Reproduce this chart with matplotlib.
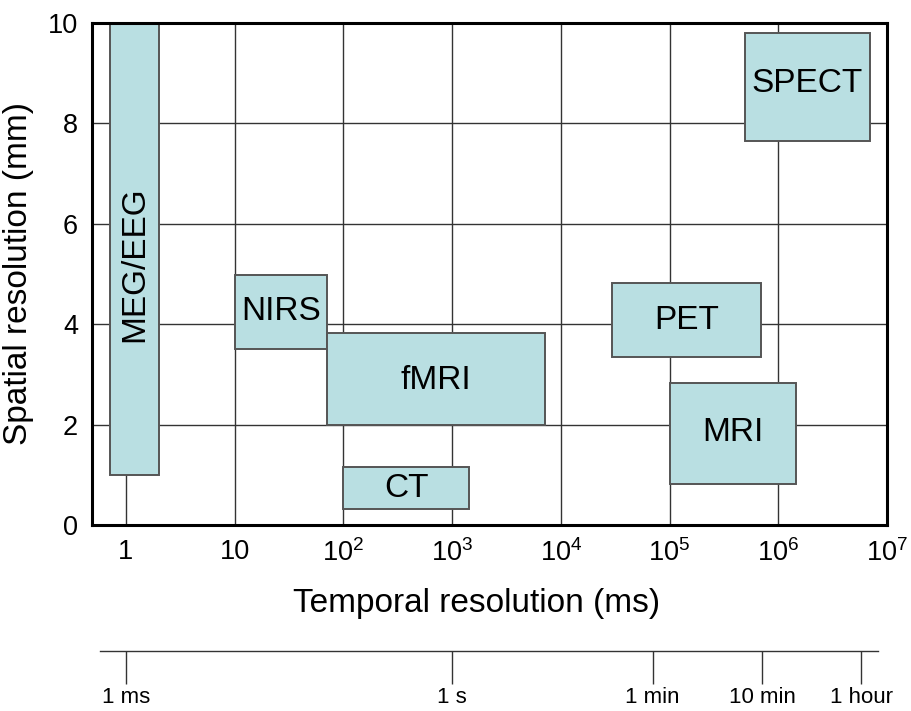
import numpy as np
import matplotlib.pyplot as plt
from matplotlib.patches import Rectangle

plt.rcParams['font.family'] = ['Liberation Sans', 'DejaVu Sans']
plt.rcParams['mathtext.fontset'] = 'custom'
plt.rcParams['mathtext.rm'] = 'Liberation Sans'
plt.rcParams['mathtext.it'] = 'Liberation Sans:italic'

# imaging methods: temporal range (ms) and spatial range (mm)
methods = ['MEG/EEG', 'NIRS', 'fMRI', 'CT', 'PET', 'MRI', 'SPECT']
t_lo = [0.71, 10, 70, 100, 2.93e4, 1e5, 4.9e5]
t_hi = [2.0, 70, 7.1e3, 1.42e3, 7.0e5, 1.44e6, 7.0e6]
s_lo = [1.0, 3.5, 2.0, 0.32, 3.34, 0.82, 7.65]
s_hi = [10.0, 4.98, 3.82, 1.15, 4.82, 2.82, 9.8]
label_rot = [90, 0, 0, 0, 0, 0, 0]
label_y = [5.2, 4.25, 2.88, 0.73, 4.08, 1.85, 8.8]

xticks = [1, 10, 1e2, 1e3, 1e4, 1e5, 1e6, 1e7]
xticklabels = ['1', '10', r'$\mathregular{10^2}$', r'$\mathregular{10^3}$',
               r'$\mathregular{10^4}$', r'$\mathregular{10^5}$',
               r'$\mathregular{10^6}$', r'$\mathregular{10^7}$']
yticks = [0, 2, 4, 6, 8, 10]

# time scale bar below (positions in ms as drawn)
time_names = ['1 ms', '1 s', '1 min', '10 min', '1 hour']
time_ms = [1, 1e3, 7.0e4, 7.1e5, 5.8e6]
bar_range = [0.58, 8.2e6]

fill = '#b9dfe2'
edge = '#555555'

fig = plt.figure(figsize=(9.12, 7.11), dpi=100)
ax = fig.add_axes([0.1009, 0.2616, 0.8717, 0.7061])
ax.set_xscale('log')
ax.set_xlim(0.487, 1e7)
ax.set_ylim(0, 10)

for xv in xticks[:-1]:
    ax.axvline(xv, color='#333333', lw=1.0, zorder=1)
for yv in yticks[1:-1]:
    ax.axhline(yv, color='#333333', lw=1.0, zorder=1)

for i, name in enumerate(methods):
    r = Rectangle((t_lo[i], s_lo[i]), t_hi[i] - t_lo[i], s_hi[i] - s_lo[i],
                  facecolor=fill, edgecolor=edge, lw=1.4, zorder=2)
    ax.add_patch(r)
    xc = np.sqrt(t_lo[i] * t_hi[i])
    ax.text(xc, label_y[i], name, rotation=label_rot[i], ha='center',
            va='center', fontsize=24, zorder=3)

ax.set_xticks(xticks)
ax.set_xticklabels(xticklabels)
ax.minorticks_off()
ax.set_yticks(yticks)
ax.tick_params(length=0, labelsize=19.5, pad=10)
for s in ax.spines.values():
    s.set_linewidth(2.2)
ax.set_xlabel('Temporal resolution (ms)', fontsize=24)
ax.xaxis.set_label_coords(0.484, -0.125)
ax.set_ylabel('Spatial resolution (mm)', fontsize=24, labelpad=10)

# time bar
ax2 = fig.add_axes([0.1009, 0.0, 0.8717, 0.0844])
ax2.set_xscale('log')
ax2.set_xlim(0.487, 1e7)
ax2.set_ylim(0, 1)
ax2.axis('off')
ax2.plot(bar_range, [1, 1], color='#333333', lw=1.0, clip_on=False)
ax2.vlines(time_ms, 0.45, 1, color='#333333', lw=1.0)
for tv, tn in zip(time_ms, time_names):
    ax2.text(tv, 0.22, tn, ha='center', va='center', fontsize=16)

fig.savefig('out.png', dpi=100)
